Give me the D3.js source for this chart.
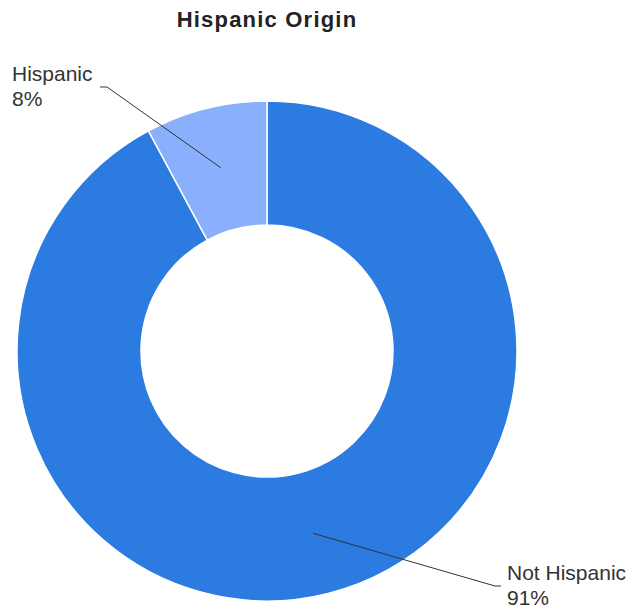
<!DOCTYPE html>
<html>
<head>
<meta charset="utf-8">
<script src="https://cdn.jsdelivr.net/npm/d3@7"></script>
<style>
  html, body { margin: 0; padding: 0; background: #fff; }
  svg { display: block; font-family: "Liberation Sans", Arial, sans-serif; }
</style>
</head>
<body>
<svg id="chart" width="633" height="611"></svg>
<script>
// Hispanic origin shares (percent)
const categories = ["Not Hispanic", "Hispanic"];
const values = [91.4, 7.8];
const colors = ["#2b7be0", "#8aaffc"];
const title = "Hispanic Origin";

const svg = d3.select("#chart");
const cx = 267, cy = 351;
const outerR = 250, innerR = 126;

svg.append("text")
  .attr("x", cx).attr("y", 27)
  .attr("text-anchor", "middle")
  .attr("font-weight", "bold")
  .attr("font-size", 22)
  .attr("letter-spacing", 1.2)
  .attr("fill", "#222")
  .text(title);

const data = categories.map((c, i) => ({ name: c, value: values[i], color: colors[i] }));
const pie = d3.pie().sort(null).value(d => d.value);
const arcs = pie(data);
const arc = d3.arc().innerRadius(innerR).outerRadius(outerR);

const g = svg.append("g").attr("transform", `translate(${cx},${cy})`);
g.selectAll("path")
  .data(arcs)
  .join("path")
  .attr("d", arc)
  .attr("fill", d => d.data.color)
  .attr("stroke", "#fff")
  .attr("stroke-width", 1.5);

// Leader lines: from a point inside each slice out to the label
const labelSpec = {
  "Not Hispanic": { r: 188, elbow: [495, 586], end: [501, 586], tx: 507, ty: 580, anchor: "start" },
  "Hispanic":     { r: 189, elbow: [107, 87],  end: [100, 87],  tx: 12,  ty: 81,  anchor: "start" }
};

arcs.forEach(a => {
  const spec = labelSpec[a.data.name];
  const mid = (a.startAngle + a.endAngle) / 2;
  const sx = cx + spec.r * Math.sin(mid);
  const sy = cy - spec.r * Math.cos(mid);
  svg.append("polyline")
    .attr("points", [[sx, sy], spec.elbow, spec.end].map(p => p.join(",")).join(" "))
    .attr("fill", "none")
    .attr("stroke", "#333")
    .attr("stroke-width", 1);
  const t = svg.append("text")
    .attr("x", spec.tx).attr("y", spec.ty)
    .attr("text-anchor", spec.anchor)
    .attr("font-size", 21)
    .attr("fill", "#333");
  t.append("tspan").attr("x", spec.tx).text(a.data.name);
  t.append("tspan").attr("x", spec.tx).attr("dy", 25).text(Math.round(a.data.value) + "%");
});
</script>
</body>
</html>
